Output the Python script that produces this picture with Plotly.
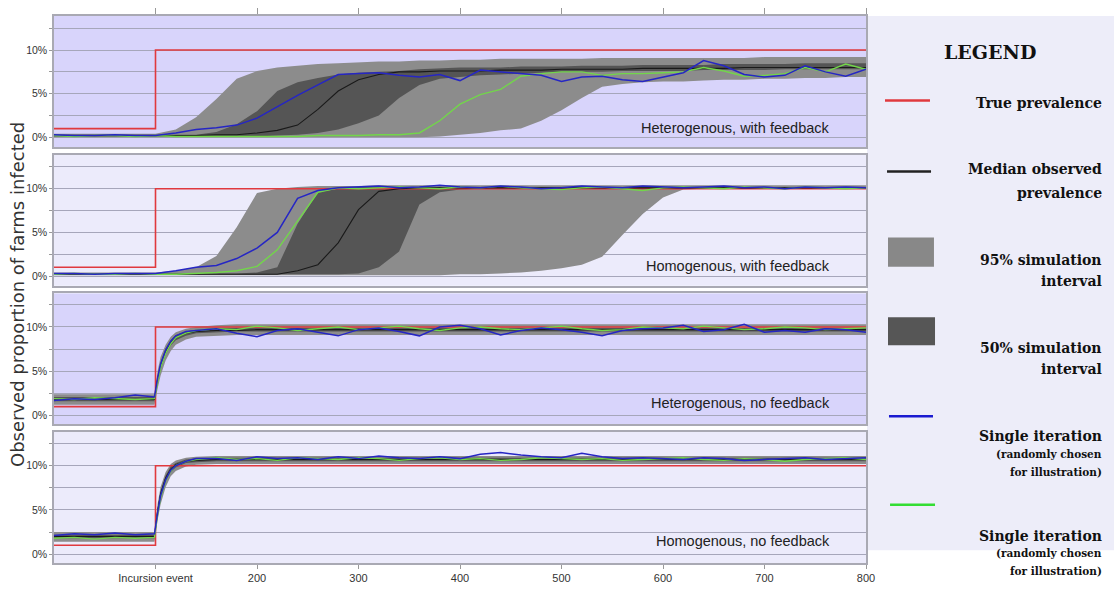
import plotly.graph_objects as go
from plotly.subplots import make_subplots

# ---------------- data ----------------
X_FB = [0, 20, 40, 60, 80, 100, 120, 140, 160, 180, 200, 220, 240, 260, 280, 300, 320, 340, 360, 380,
        400, 420, 440, 460, 480, 500, 520, 540, 560, 580, 600, 620, 640, 660, 680, 700, 720, 740, 760, 780, 800]
X_NF = [0, 20, 40, 60, 80, 99, 102, 105, 110, 115, 120, 130, 140, 160, 180, 200, 220, 240, 260, 280, 300,
        320, 340, 360, 380, 400, 420, 440, 460, 480, 500, 520, 540, 560, 580, 600, 620, 640, 660, 680, 700,
        720, 740, 760, 780, 800]
TRUE_X = [0, 100, 100, 800]
TRUE_Y = [1, 1, 10, 10]

PANEL_TITLES = ["Heterogenous, with feedback", "Homogenous, with feedback",
                "Heterogenous, no feedback", "Homogenous, no feedback"]

# Panel 1: heterogenous, with feedback
HF_HI95 = [0.4, 0.4, 0.4, 0.4, 0.4, 0.4, 0.9, 2.3, 4.4, 6.7, 7.6, 8.0, 8.2, 8.4, 8.5, 8.6, 8.7, 8.7, 8.8, 8.8,
           8.9, 8.9, 9.0, 9.0, 9.0, 9.0, 9.0, 9.1, 9.1, 9.1, 9.1, 9.1, 9.1, 9.1, 9.1, 9.2, 9.2, 9.2, 9.2, 9.2, 9.2]
HF_LO95 = [0.0, 0.0, 0.0, 0.0, 0.0, 0.0, 0.0, 0.0, 0.0, 0.0, 0.0, 0.0, 0.0, 0.0, 0.0, 0.0, 0.0, 0.0, 0.0, 0.1,
           0.3, 0.5, 0.8, 1.0, 1.9, 3.1, 4.5, 5.8, 6.1, 6.3, 6.4, 6.4, 6.5, 6.6, 6.6, 6.7, 6.7, 6.8, 6.8, 6.9, 6.9]
HF_HI50 = [0.3, 0.3, 0.3, 0.3, 0.3, 0.3, 0.3, 0.3, 0.6, 1.5, 3.0, 5.3, 6.3, 6.8, 7.2, 7.4, 7.5, 7.6, 7.8, 7.9,
           8.0, 8.0, 8.0, 8.1, 8.1, 8.1, 8.2, 8.2, 8.2, 8.3, 8.3, 8.3, 8.3, 8.4, 8.4, 8.4, 8.4, 8.5, 8.5, 8.5, 8.5]
HF_LO50 = [0.1, 0.1, 0.1, 0.1, 0.1, 0.1, 0.1, 0.1, 0.1, 0.1, 0.1, 0.2, 0.3, 0.5, 0.9, 1.6, 2.5, 4.5, 6.0, 6.7,
           6.9, 7.1, 7.2, 7.3, 7.4, 7.5, 7.5, 7.5, 7.6, 7.6, 7.6, 7.6, 7.7, 7.7, 7.7, 7.7, 7.8, 7.8, 7.8, 7.8, 7.8]
HF_MED = [0.2, 0.2, 0.2, 0.2, 0.2, 0.2, 0.2, 0.2, 0.3, 0.3, 0.5, 0.8, 1.4, 3.2, 5.3, 6.6, 7.2, 7.5, 7.5, 7.6,
          7.6, 7.6, 7.7, 7.7, 7.7, 7.8, 7.8, 7.8, 7.8, 7.9, 7.9, 7.9, 7.9, 7.9, 8.0, 8.0, 8.0, 8.0, 8.0, 8.0, 8.0]
HF_BLUE = [0.3, 0.2, 0.2, 0.3, 0.2, 0.2, 0.5, 0.9, 1.1, 1.4, 2.2, 3.5, 4.8, 6.0, 7.2, 7.3, 7.4, 7.1, 6.9, 7.2,
           6.5, 7.7, 7.5, 7.3, 7.1, 6.4, 6.9, 7.0, 6.6, 6.4, 6.9, 7.4, 8.8, 8.2, 7.2, 6.9, 7.1, 8.2, 7.5, 7.0, 7.8]
HF_GREEN = [0.2, 0.1, 0.2, 0.2, 0.1, 0.2, 0.1, 0.1, 0.1, 0.1, 0.1, 0.1, 0.1, 0.2, 0.2, 0.2, 0.3, 0.3, 0.5, 1.9,
            3.8, 4.9, 5.5, 7.0, 7.3, 7.5, 7.5, 7.1, 7.3, 7.3, 7.4, 7.5, 8.0, 7.6, 7.0, 7.1, 7.3, 8.0, 7.5, 8.4, 7.8]

# Panel 2: homogenous, with feedback
HOF_HI95 = [0.4, 0.4, 0.4, 0.4, 0.4, 0.4, 0.6, 1.0, 2.3, 5.6, 9.5, 10.0, 10.2, 10.3, 10.3, 10.3, 10.4, 10.4,
            10.4, 10.4, 10.4, 10.4, 10.4, 10.4, 10.4, 10.4, 10.4, 10.4, 10.4, 10.4, 10.4, 10.4, 10.4, 10.4, 10.4,
            10.4, 10.4, 10.4, 10.4, 10.4, 10.4]
HOF_LO95 = [0.1, 0.1, 0.1, 0.1, 0.1, 0.1, 0.1, 0.1, 0.1, 0.1, 0.1, 0.1, 0.1, 0.1, 0.1, 0.1, 0.1, 0.1, 0.1, 0.1,
            0.2, 0.2, 0.3, 0.4, 0.6, 0.9, 1.3, 2.2, 4.7, 7.1, 9.0, 9.9, 10.0, 10.0, 10.0, 10.0, 10.0, 10.0, 10.0,
            10.0, 10.0]
HOF_HI50 = [0.3, 0.3, 0.3, 0.3, 0.3, 0.3, 0.3, 0.3, 0.3, 0.3, 0.4, 1.0, 6.0, 9.6, 10.0, 10.2, 10.2, 10.2, 10.2,
            10.2, 10.2, 10.2, 10.2, 10.2, 10.2, 10.2, 10.2, 10.2, 10.2, 10.2, 10.2, 10.2, 10.2, 10.2, 10.2, 10.2,
            10.2, 10.2, 10.2, 10.2, 10.2]
HOF_LO50 = [0.2, 0.2, 0.2, 0.2, 0.2, 0.2, 0.2, 0.2, 0.2, 0.2, 0.2, 0.2, 0.2, 0.2, 0.2, 0.3, 1.0, 2.8, 8.2, 9.6,
            9.9, 10.0, 10.0, 10.0, 10.0, 10.0, 10.0, 10.0, 10.0, 10.0, 10.0, 10.0, 10.0, 10.0, 10.0, 10.0, 10.0,
            10.0, 10.0, 10.0, 10.0]
HOF_MED = [0.2, 0.2, 0.2, 0.2, 0.2, 0.2, 0.2, 0.2, 0.2, 0.2, 0.2, 0.2, 0.6, 1.3, 3.8, 7.6, 9.7, 10.0, 10.1, 10.1,
           10.1, 10.1, 10.1, 10.1, 10.1, 10.1, 10.1, 10.1, 10.1, 10.1, 10.1, 10.1, 10.1, 10.1, 10.1, 10.1, 10.1,
           10.1, 10.1, 10.1, 10.1]
HOF_BLUE = [0.3, 0.3, 0.2, 0.3, 0.3, 0.3, 0.6, 1.0, 1.2, 2.0, 3.2, 5.0, 8.9, 9.8, 10.1, 10.2, 10.3, 10.1, 10.2,
            10.4, 10.2, 10.1, 10.3, 10.2, 10.0, 10.1, 10.3, 10.2, 10.1, 10.3, 10.2, 10.1, 10.2, 10.3, 10.1, 10.2,
            10.0, 10.2, 10.1, 10.2, 10.1]
HOF_GREEN = [0.2, 0.3, 0.2, 0.2, 0.3, 0.2, 0.2, 0.3, 0.4, 0.6, 1.1, 3.0, 6.3, 9.6, 10.1, 10.0, 10.1, 10.2, 10.1,
             10.0, 10.2, 10.1, 10.3, 10.1, 10.0, 9.9, 10.1, 10.2, 10.0, 9.8, 10.1, 10.2, 10.1, 10.0, 10.2, 10.1,
             10.0, 10.2, 10.1, 10.0, 10.1]

# Panel 3: heterogenous, no feedback
HN_HI95 = [2.4, 2.4, 2.4, 2.4, 2.4, 2.4, 5.0, 6.6, 8.0, 8.9, 9.4, 9.8, 10.0, 10.2, 10.3, 10.3, 10.3, 10.3, 10.3,
           10.3, 10.3, 10.3, 10.3, 10.3, 10.3, 10.3, 10.3, 10.3, 10.3, 10.3, 10.3, 10.3, 10.3, 10.3, 10.3, 10.3,
           10.3, 10.3, 10.3, 10.3, 10.3, 10.3, 10.3, 10.3, 10.3, 10.3]
HN_LO95 = [1.2, 1.2, 1.2, 1.2, 1.2, 1.2, 3.0, 4.5, 6.2, 7.3, 8.0, 8.6, 8.9, 9.0, 9.1, 9.1, 9.1, 9.1, 9.1, 9.1,
           9.1, 9.1, 9.1, 9.1, 9.1, 9.1, 9.1, 9.1, 9.1, 9.1, 9.1, 9.1, 9.1, 9.1, 9.1, 9.1, 9.1, 9.1, 9.1, 9.1,
           9.1, 9.1, 9.1, 9.1, 9.1, 9.1]
HN_HI50 = [2.1, 2.1, 2.1, 2.1, 2.1, 2.1, 4.4, 6.0, 7.6, 8.5, 9.1, 9.5, 9.7, 9.9, 9.9, 9.9, 9.9, 9.9, 9.9, 9.9,
           9.9, 9.9, 9.9, 9.9, 9.9, 9.9, 9.9, 9.9, 9.9, 9.9, 9.9, 9.9, 9.9, 9.9, 9.9, 9.9, 9.9, 9.9, 9.9, 9.9,
           9.9, 9.9, 9.9, 9.9, 9.9, 9.9]
HN_LO50 = [1.6, 1.6, 1.6, 1.6, 1.6, 1.6, 3.6, 5.2, 6.9, 7.9, 8.5, 9.0, 9.3, 9.4, 9.5, 9.5, 9.5, 9.5, 9.5, 9.5,
           9.5, 9.5, 9.5, 9.5, 9.5, 9.5, 9.5, 9.5, 9.5, 9.5, 9.5, 9.5, 9.5, 9.5, 9.5, 9.5, 9.5, 9.5, 9.5, 9.5,
           9.5, 9.5, 9.5, 9.5, 9.5, 9.5]
HN_MED = [1.8, 1.8, 1.8, 1.8, 1.8, 1.8, 4.0, 5.6, 7.2, 8.2, 8.8, 9.3, 9.5, 9.6, 9.6, 9.7, 9.7, 9.7, 9.7, 9.7,
          9.7, 9.7, 9.7, 9.7, 9.7, 9.7, 9.7, 9.7, 9.7, 9.7, 9.7, 9.7, 9.7, 9.7, 9.7, 9.7, 9.7, 9.7, 9.7, 9.7,
          9.7, 9.7, 9.7, 9.7, 9.7, 9.7]
HN_BLUE = [1.7, 1.9, 1.8, 2.0, 2.3, 2.1, 4.2, 5.8, 7.4, 8.4, 9.0, 9.5, 9.6, 9.8, 9.3, 8.9, 9.6, 9.8, 9.4, 9.0,
           9.7, 9.9, 9.5, 9.0, 10.0, 10.2, 9.8, 9.1, 9.6, 9.9, 9.7, 9.4, 9.0, 9.6, 9.8, 9.9, 10.2, 9.5, 9.7, 10.3,
           9.4, 9.6, 9.4, 9.8, 9.7, 9.4]
HN_GREEN = [1.9, 1.8, 2.0, 1.9, 1.8, 1.9, 3.8, 5.4, 7.0, 8.1, 8.8, 9.3, 9.6, 9.8, 9.7, 10.1, 9.9, 9.6, 9.8, 10.0,
            9.7, 9.9, 10.1, 9.8, 9.6, 9.9, 10.0, 9.8, 9.7, 9.9, 10.1, 9.8, 9.6, 9.7, 10.0, 9.9, 9.8, 10.1, 9.9,
            9.7, 9.8, 10.0, 9.9, 9.7, 9.8, 9.9]

# Panel 4: homogenous, no feedback
HON_HI95 = [2.5, 2.5, 2.5, 2.5, 2.5, 2.5, 5.6, 7.6, 9.3, 10.2, 10.6, 10.9, 11.0, 11.1, 11.1, 11.1, 11.1, 11.1,
            11.1, 11.1, 11.1, 11.1, 11.1, 11.1, 11.1, 11.1, 11.1, 11.1, 11.1, 11.1, 11.1, 11.1, 11.1, 11.1, 11.1,
            11.1, 11.1, 11.1, 11.1, 11.1, 11.1, 11.1, 11.1, 11.1, 11.1, 11.1]
HON_LO95 = [1.4, 1.4, 1.4, 1.4, 1.4, 1.4, 3.8, 5.6, 7.6, 8.8, 9.4, 9.9, 10.1, 10.2, 10.2, 10.2, 10.2, 10.2,
            10.2, 10.2, 10.2, 10.2, 10.2, 10.2, 10.2, 10.2, 10.2, 10.2, 10.2, 10.2, 10.2, 10.2, 10.2, 10.2, 10.2,
            10.2, 10.2, 10.2, 10.2, 10.2, 10.2, 10.2, 10.2, 10.2, 10.2, 10.2]
HON_HI50 = [2.2, 2.2, 2.2, 2.2, 2.2, 2.2, 5.1, 7.1, 8.9, 9.9, 10.3, 10.7, 10.8, 10.9, 10.9, 10.9, 10.9, 10.9,
            10.9, 10.9, 10.9, 10.9, 10.9, 10.9, 10.9, 10.9, 10.9, 10.9, 10.9, 10.9, 10.9, 10.9, 10.9, 10.9, 10.9,
            10.9, 10.9, 10.9, 10.9, 10.9, 10.9, 10.9, 10.9, 10.9, 10.9, 10.9]
HON_LO50 = [1.8, 1.8, 1.8, 1.8, 1.8, 1.8, 4.5, 6.5, 8.3, 9.3, 9.8, 10.3, 10.4, 10.5, 10.5, 10.5, 10.5, 10.5,
            10.5, 10.5, 10.5, 10.5, 10.5, 10.5, 10.5, 10.5, 10.5, 10.5, 10.5, 10.5, 10.5, 10.5, 10.5, 10.5, 10.5,
            10.5, 10.5, 10.5, 10.5, 10.5, 10.5, 10.5, 10.5, 10.5, 10.5, 10.5]
HON_MED = [2.0, 2.0, 2.0, 2.0, 2.0, 2.0, 4.8, 6.8, 8.6, 9.6, 10.1, 10.5, 10.6, 10.7, 10.7, 10.7, 10.7, 10.7,
           10.7, 10.7, 10.7, 10.7, 10.7, 10.7, 10.7, 10.7, 10.7, 10.7, 10.7, 10.7, 10.7, 10.7, 10.7, 10.7, 10.7,
           10.7, 10.7, 10.7, 10.7, 10.7, 10.7, 10.7, 10.7, 10.7, 10.7, 10.7]
HON_BLUE = [2.1, 2.3, 2.2, 2.4, 2.2, 2.3, 4.6, 6.6, 8.4, 9.5, 10.0, 10.5, 10.8, 10.8, 10.6, 11.0, 10.8, 10.9,
            10.7, 11.0, 10.8, 11.1, 10.9, 10.8, 11.0, 10.8, 11.3, 11.5, 11.2, 11.0, 10.9, 11.4, 11.0, 10.8, 10.9,
            10.8, 10.7, 10.9, 10.8, 10.6, 10.7, 10.8, 10.9, 10.7, 10.8, 10.9]
HON_GREEN = [1.8, 1.9, 1.7, 1.9, 1.8, 1.9, 4.4, 6.4, 8.3, 9.4, 10.0, 10.5, 10.7, 10.9, 10.7, 10.8, 10.6, 10.9,
             10.8, 10.7, 10.9, 10.8, 10.6, 10.8, 10.9, 10.7, 10.8, 10.6, 10.7, 10.9, 10.8, 10.7, 10.8, 10.6, 10.7,
             10.8, 10.9, 10.7, 10.6, 10.8, 10.7, 10.5, 10.7, 10.8, 10.9, 10.7]

Y_TICKVALS = [0, 2.5, 5, 7.5, 10, 12.5]
Y_TICKTEXT = ["0%", "", "5%", "", "10%", ""]
X_TICKVALS = [100, 200, 300, 400, 500, 600, 700, 800]
X_TICKTEXT = ["Incursion event", "200", "300", "400", "500", "600", "700", "800"]

# ---------------- styling ----------------
C95 = "#8c8c8c"
C50 = "#555555"
CRED = "#e0393e"
CBLUE = "#2626c4"
CGREEN = "#72d64a"
BG_DARK = "#d8d4fb"
BG_LIGHT = "#ecebfb"
GRID = "#a6a6ba"
BORDER = "#a9a9b3"

panels = [
    dict(x=X_FB, lo95=HF_LO95, hi95=HF_HI95, lo50=HF_LO50, hi50=HF_HI50, med=HF_MED, blue=HF_BLUE, green=HF_GREEN,
         bg=BG_DARK, yr=[-1.1, 13.9], ly=0.148),
    dict(x=X_FB, lo95=HOF_LO95, hi95=HOF_HI95, lo50=HOF_LO50, hi50=HOF_HI50, med=HOF_MED, blue=HOF_BLUE,
         green=HOF_GREEN, bg=BG_LIGHT, yr=[-1.1, 13.9], ly=0.149),
    dict(x=X_NF, lo95=HN_LO95, hi95=HN_HI95, lo50=HN_LO50, hi50=HN_HI50, med=HN_MED, blue=HN_BLUE, green=HN_GREEN,
         bg=BG_DARK, yr=[-1.0, 13.8], ly=0.163),
    dict(x=X_NF, lo95=HON_LO95, hi95=HON_HI95, lo50=HON_LO50, hi50=HON_HI50, med=HON_MED, blue=HON_BLUE,
         green=HON_GREEN, bg=BG_LIGHT, yr=[-1.0, 13.8], ly=0.17),
]

fig = make_subplots(rows=4, cols=1, vertical_spacing=8 / 563)

for i, p in enumerate(panels, start=1):
    x = p["x"]
    common = dict(mode="lines", showlegend=False, hoverinfo="skip")
    fig.add_trace(go.Scatter(x=x, y=p["lo95"], line=dict(width=0, color=C95), **common), row=i, col=1)
    fig.add_trace(go.Scatter(x=x, y=p["hi95"], line=dict(width=0, color=C95), fill="tonexty",
                             fillcolor=C95, **common), row=i, col=1)
    fig.add_trace(go.Scatter(x=x, y=p["lo50"], line=dict(width=0, color=C50), **common), row=i, col=1)
    fig.add_trace(go.Scatter(x=x, y=p["hi50"], line=dict(width=0, color=C50), fill="tonexty",
                             fillcolor=C50, **common), row=i, col=1)
    fig.add_trace(go.Scatter(x=TRUE_X, y=TRUE_Y, line=dict(width=1.6, color=CRED), **common), row=i, col=1)
    fig.add_trace(go.Scatter(x=x, y=p["med"], line=dict(width=1.1, color="#1a1a1a"), **common), row=i, col=1)
    fig.add_trace(go.Scatter(x=x, y=p["green"], line=dict(width=1.4, color=CGREEN), **common), row=i, col=1)
    fig.add_trace(go.Scatter(x=x, y=p["blue"], line=dict(width=1.5, color=CBLUE), **common), row=i, col=1)

    xs = "" if i == 1 else str(i)
    fig.add_shape(type="rect", xref=f"x{xs} domain", yref=f"y{xs} domain", x0=0, x1=1, y0=0, y1=1,
                  fillcolor=p["bg"], line=dict(width=0), layer="below")
    fig.add_annotation(xref=f"x{xs} domain", yref=f"y{xs} domain", x=0.958, y=p["ly"],
                       text=PANEL_TITLES[i - 1], showarrow=False, xanchor="right", yanchor="middle",
                       font=dict(family="Liberation Sans, Arial", size=14.5, color="#222222"))

    fig.update_yaxes(range=p["yr"], tickvals=Y_TICKVALS, ticktext=Y_TICKTEXT, showgrid=True,
                     gridcolor=GRID, gridwidth=1, zeroline=False, showline=True, mirror=True,
                     linecolor=BORDER, linewidth=1.5, ticks="outside", ticklen=3, tickcolor="#999999",
                     tickfont=dict(family="Liberation Sans, Arial", size=10.5, color="#333333"),
                     row=i, col=1)
    xa = dict(range=[0, 800], showgrid=False, zeroline=False, showline=True, mirror=True,
              linecolor=BORDER, linewidth=1.5, tickvals=X_TICKVALS)
    if i == 1:
        xa.update(side="top", ticks="outside", ticklen=6, tickcolor="#999999", showticklabels=False)
    elif i == 4:
        xa.update(ticks="outside", ticklen=4, tickcolor="#999999", ticktext=X_TICKTEXT,
                  tickfont=dict(family="Liberation Sans, Arial", size=11, color="#333333"))
    else:
        xa.update(ticks="", showticklabels=False)
    fig.update_xaxes(row=i, col=1, **xa)

# y axis title
fig.add_annotation(xref="paper", yref="paper", x=-0.0443, y=0.490, text="Observed proportion of farms infected",
                   textangle=-90, showarrow=False, xanchor="center", yanchor="middle",
                   font=dict(family="DejaVu Sans, Liberation Sans", size=18, color="#333333"))

# ---------------- legend panel ----------------
fig.add_shape(type="rect", xref="paper", yref="paper", x0=1.0012, x1=1.32, y0=0.0231, y1=1.0,
              fillcolor="#ededf9", line=dict(width=0), layer="below")
legend_lines = [
    (1.0234, 1.0788, 0.8455, CRED, 2.5),
    (1.0259, 1.0801, 0.7158, "#222222", 2.5),
    (1.0283, 1.0825, 0.2682, "#1a1ad0", 2.5),
    (1.0296, 1.0850, 0.1066, "#33dd33", 2.5),
]
for x0, x1, y, c, w in legend_lines:
    fig.add_shape(type="line", xref="paper", yref="paper", x0=x0, x1=x1, y0=y, y1=y, line=dict(color=c, width=w))
fig.add_shape(type="rect", xref="paper", yref="paper", x0=1.0271, x1=1.0837, y0=0.5417, y1=0.5950,
              fillcolor="#888888", line=dict(width=0))
fig.add_shape(type="rect", xref="paper", yref="paper", x0=1.0271, x1=1.0850, y0=0.3979, y1=0.4494,
              fillcolor="#565656", line=dict(width=0))

SERIF = "DejaVu Serif, Liberation Serif, serif"
fig.add_annotation(xref="paper", yref="paper", x=1.1527, y=0.9343, text="<b>LEGEND</b>", showarrow=False,
                   xanchor="center", yanchor="middle", font=dict(family=SERIF, size=19, color="#111111"))
legend_texts = [
    ("True prevalence", 0.8401, 14),
    ("Median observed", 0.7194, 14),
    ("prevalence", 0.6767, 14),
    ("95% simulation", 0.5542, 14),
    ("interval", 0.5151, 14),
    ("50% simulation", 0.3925, 14),
    ("interval", 0.3552, 14),
    ("Single iteration", 0.2327, 14),
    ("(randomly chosen", 0.1989, 10.5),
    ("for illustration)", 0.1670, 10.5),
    ("Single iteration", 0.0497, 14),
    ("(randomly chosen", 0.0178, 10.5),
    ("for illustration)", -0.0142, 10.5),
]
for t, y, s in legend_texts:
    fig.add_annotation(xref="paper", yref="paper", x=1.2931, y=y, text=f"<b>{t}</b>", showarrow=False,
                       xanchor="right", yanchor="middle", font=dict(family=SERIF, size=s, color="#111111"))

fig.update_layout(
    width=1114, height=594,
    margin=dict(l=54, r=248, t=10, b=21),
    paper_bgcolor="white", plot_bgcolor=BG_LIGHT,
    showlegend=False, hovermode=False,
)

fig.write_html("out.html", config={"displayModeBar": False},
               post_script="document.body.style.margin='0px';document.body.style.overflow='hidden';")
